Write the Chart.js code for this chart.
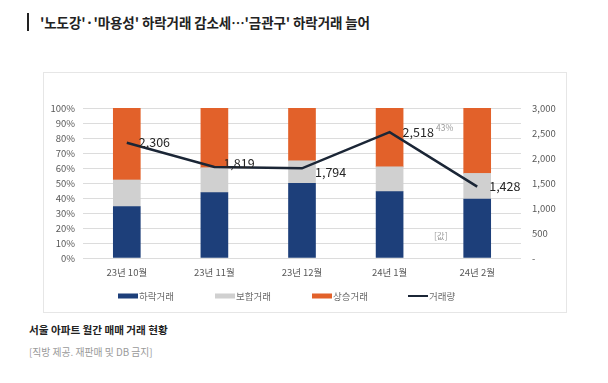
<!DOCTYPE html>
<html><head><meta charset="utf-8">
<script src="https://cdn.jsdelivr.net/npm/chart.js@4.4.1/dist/chart.umd.min.js"></script>
<style>
html,body{margin:0;padding:0;background:#fff;width:608px;height:383px;overflow:hidden;font-family:"Noto Sans CJK KR","Noto Sans",sans-serif;}
.abs{position:absolute;white-space:nowrap;}
#frame{position:absolute;left:43px;top:72px;width:522px;height:239px;border:1px solid #e6e6e6;pointer-events:none;}
#c{position:absolute;left:44px;top:73px;}
</style></head>
<body>
<div class="abs" style="left:27px;top:13px;width:2px;height:18px;background:#222;"></div>
<div class="abs" style="left:40px;top:13px;font-size:13.5px;font-weight:700;color:#222;line-height:18px;letter-spacing:-0.1px;">'노도강'·'마용성' 하락거래 감소세…'금관구' 하락거래 늘어</div>
<canvas id="c" width="522" height="239"></canvas>
<div id="frame"></div>
<div class="abs" style="left:436px;top:121px;font-size:8.5px;color:#999;">43%</div>
<div class="abs" style="left:434px;top:229px;font-size:8.5px;color:#999;">[값]</div>
<div class="abs" style="left:29px;top:322px;font-size:10.6px;font-weight:700;color:#222;line-height:16px;">서울 아파트 월간 매매 거래 현황</div>
<div class="abs" style="left:29px;top:344px;font-size:9.8px;color:#9a9a9a;line-height:16px;">[직방 제공. 재판매 및 DB 금지]</div>
<script>
const categories = ['23년 10월','23년 11월','23년 12월','24년 1월','24년 2월'];
const fallPct = [34.3, 43.6, 49.8, 44.2, 39.2];
const flatPct = [17.7, 16.6, 15.0, 16.6, 17.2];
const risePct = [48.0, 39.8, 35.2, 39.2, 43.6];
const volume = [2306, 1819, 1794, 2518, 1428];
const pctTicks = [0,10,20,30,40,50,60,70,80,90,100];
const volTicks = [0,500,1000,1500,2000,2500,3000];

const FONT = '"Noto Sans CJK KR","Noto Sans",sans-serif';
const labelOffsets = [[12,0],[9,-4],[13,4],[13,0],[12,0]];

const valueLabels = {
  id:'valueLabels',
  afterDatasetsDraw(chart){
    const meta = chart.getDatasetMeta(3);
    const ctx = chart.ctx;
    ctx.save();
    ctx.font = '12.5px ' + FONT;
    ctx.fillStyle = '#262626';
    ctx.textAlign = 'left';
    ctx.textBaseline = 'middle';
    meta.data.forEach((pt,i)=>{
      ctx.fillText(volume[i].toLocaleString('en-US'), pt.x + labelOffsets[i][0], pt.y + labelOffsets[i][1]);
    });
    ctx.restore();
  }
};

const customLegend = {
  id:'customLegend',
  afterDraw(chart){
    const ctx = chart.ctx;
    const xs = [74,171,268,364];
    const y = 223;
    ctx.save();
    ctx.font = '9.5px ' + FONT;
    ctx.textBaseline = 'middle';
    ctx.textAlign = 'left';
    chart.data.datasets.forEach((ds,i)=>{
      const x = xs[i];
      if (ds.type === 'line') {
        ctx.strokeStyle = ds.borderColor;
        ctx.lineWidth = 2;
        ctx.beginPath(); ctx.moveTo(x, y); ctx.lineTo(x+20, y); ctx.stroke();
      } else {
        ctx.fillStyle = ds.backgroundColor;
        ctx.fillRect(x, y-2.5, 20, 5);
      }
      ctx.fillStyle = '#6b6b6b';
      ctx.fillText(ds.label, x+21, y);
    });
    ctx.restore();
  }
};

new Chart(document.getElementById('c'), {
  data: {
    labels: categories,
    datasets: [
      {type:'bar', label:'하락거래', data: fallPct, backgroundColor:'#1d3f7a', yAxisID:'y', stack:'s', order:2, barThickness:27},
      {type:'bar', label:'보합거래', data: flatPct, backgroundColor:'#d0d0d0', yAxisID:'y', stack:'s', order:2, barThickness:27},
      {type:'bar', label:'상승거래', data: risePct, backgroundColor:'#e2612a', yAxisID:'y', stack:'s', order:2, barThickness:27},
      {type:'line', label:'거래량', data: volume, borderColor:'#1b2636', backgroundColor:'#1b2636', borderWidth:2.5, pointRadius:0, tension:0, yAxisID:'y2', order:0}
    ]
  },
  options: {
    responsive:false,
    animation:false,
    devicePixelRatio:1,
    layout:{padding:{top:35,bottom:34,left:0,right:0}},
    plugins:{legend:{display:false}, tooltip:{enabled:false}},
    scales:{
      x:{
        stacked:true,
        grid:{display:false, drawTicks:false},
        border:{display:false},
        ticks:{font:{family:FONT,size:9.5}, color:'#595959', padding:9},
        afterFit(s){ s.height = 20; }
      },
      y:{
        stacked:true, position:'left', min:0, max:100,
        afterBuildTicks(s){ s.ticks = pctTicks.map(v=>({value:v})); },
        grid:{color:'#dcdcdc', drawTicks:false, lineWidth:1},
        border:{display:false},
        ticks:{font:{family:FONT,size:9.5}, color:'#595959', padding:8, callback:v=>v+'%'},
        afterFit(s){ s.width = 39; }
      },
      y2:{
        position:'right', min:0, max:3000,
        afterBuildTicks(s){ s.ticks = volTicks.map(v=>({value:v})); },
        grid:{display:false, drawTicks:false},
        border:{display:false},
        ticks:{font:{family:FONT,size:9.5}, color:'#595959', padding:11, callback:v=> v===0 ? '-' : v.toLocaleString('en-US')},
        afterFit(s){ s.width = 45; }
      }
    }
  },
  plugins:[valueLabels, customLegend]
});
</script>
</body></html>
